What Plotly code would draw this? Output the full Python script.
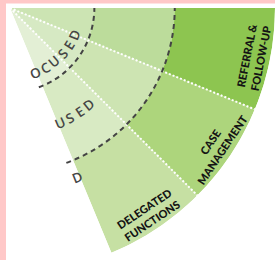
import math
import plotly.graph_objects as go

# ---------------- data ----------------
sector_names = ["DELEGATED FUNCTIONS", "CASE MANAGEMENT", "REFERRAL & FOLLOW-UP"]
sector_labels = ["DELEGATED<br>FUNCTIONS", "CASE<br>MANAGEMENT", "REFERRAL &amp;<br>FOLLOW-UP"]
sector_centers = [-56.25, -33.75, -11.25]      # degrees (counter-clockwise from east)
sector_width = 22.5
ring_edges = [0, 85, 166, 267]                 # radial boundaries of the three rings
ring_labels = ["OCUSED", "USED", "D"]

# ---------------- style ----------------
ring_colors = [
    ["#E3EFD5", "#D6E9C3", "#CCE4B3"],   # inner ring: delegated, case, referral
    ["#D8EAC3", "#CDE4B2", "#BCDC9B"],   # middle ring
    ["#C6E0A3", "#ADD57C", "#8DC550"],   # outer ring
]
W, H = 275, 260
CX, CY = 10, 8          # apex in pixels
R_PX = 265              # outer radius in pixels
RMAX = ring_edges[-1]
SCALE = R_PX / RMAX

fig = go.Figure()
for ri in range(3):
    fig.add_trace(go.Barpolar(
        theta=sector_centers,
        r=[ring_edges[ri + 1] - ring_edges[ri]] * len(sector_centers),
        base=[ring_edges[ri]] * len(sector_centers),
        width=[sector_width] * len(sector_centers),
        marker=dict(color=ring_colors[ri], line=dict(width=0)),
        name=f"ring {ri+1}", hoverinfo="skip", subplot="polar",
    ))
# dummy trace to instantiate the overlay subplot holding the grid lines
fig.add_trace(go.Scatterpolar(r=[0], theta=[0], mode="markers",
                              marker=dict(opacity=0), hoverinfo="skip", subplot="polar2"))


def sector_domain(span):
    h = R_PX * math.sin(math.radians(span))
    return dict(x=[CX / W, (CX + R_PX) / W], y=[1 - (CY + h) / H, 1 - CY / H])


hidden_ang = dict(showline=False, showticklabels=False, ticks="", showgrid=False)
hidden_rad = dict(showline=False, showticklabels=False, ticks="", showgrid=False, range=[0, RMAX])

fig.update_layout(
    width=W, height=H, margin=dict(l=0, r=0, t=0, b=0),
    paper_bgcolor="white", showlegend=False,
    polar=dict(sector=[-67.5, 0], domain=sector_domain(67.5), bgcolor="rgba(0,0,0,0)",
               angularaxis=hidden_ang, radialaxis=hidden_rad, bargap=0),
    polar2=dict(sector=[-70, 0], domain=sector_domain(70), bgcolor="rgba(0,0,0,0)",
                angularaxis=dict(showline=False, showticklabels=False, ticks="", showgrid=True,
                                 tickmode="array", tickvals=[-45, -22.5],
                                 gridcolor="white", gridwidth=1.5, griddash="2px,2px"),
                radialaxis=dict(showline=False, showticklabels=False, ticks="", showgrid=True,
                                range=[0, RMAX], tickmode="array", tickvals=ring_edges[1:3],
                                gridcolor="#444444", gridwidth=2, griddash="5px,4px")),
)


def to_paper(r, theta_below):
    a = math.radians(theta_below)
    x = CX + r * SCALE * math.cos(a)
    y = CY + r * SCALE * math.sin(a)
    return x / W, 1 - y / H


annotations = []
# sector labels, tangential
for lab, th in zip(sector_labels, sector_centers):
    tb = -th
    x, y = to_paper(250, tb)
    annotations.append(dict(x=x, y=y, xref="paper", yref="paper", text=lab, showarrow=False,
                            textangle=-(90 - tb), xanchor="center", yanchor="middle",
                            font=dict(family="Lato", size=11, color="#141414", weight=900)))

# curved ring labels, letter by letter
ring_label_r = [70, 126, 183]
ring_label_start = [68.7, 66.5, 68.2]
LETTER_SPACING = 11.3
for text, rr, start in zip(ring_labels, ring_label_r, ring_label_start):
    step = math.degrees(LETTER_SPACING / rr)
    for i, ch in enumerate(text):
        tb = start - i * step
        x, y = to_paper(rr, tb)
        annotations.append(dict(x=x, y=y, xref="paper", yref="paper", text=ch, showarrow=False,
                                textangle=-(90 - tb), xanchor="center", yanchor="middle",
                                font=dict(family="Open Sans", size=13.5, color="#454545", weight=600)))
fig.update_layout(annotations=annotations)

# pink frame strips
fig.add_shape(type="rect", xref="paper", yref="paper", x0=0, x1=6 / W, y0=0, y1=1,
              fillcolor="#FFC8C8", line=dict(width=0), layer="above")
fig.add_shape(type="rect", xref="paper", yref="paper", x0=0, x1=1, y0=1 - 3.5 / H, y1=1,
              fillcolor="#FFC8C8", line=dict(width=0), layer="above")

fig.write_html("out.html", config={"displayModeBar": False},
               post_script="document.body.style.margin='0';document.body.style.overflow='hidden';")
